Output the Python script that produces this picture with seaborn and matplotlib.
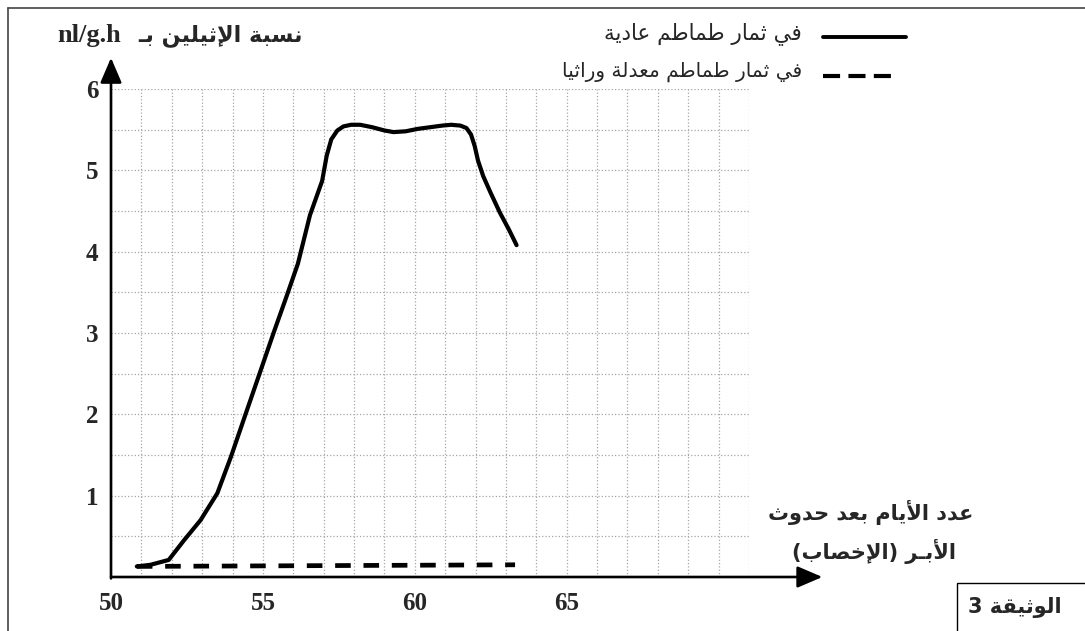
import matplotlib
matplotlib.use("Agg")
import matplotlib.pyplot as plt
from matplotlib.lines import Line2D
from matplotlib.patches import Rectangle
from matplotlib.ticker import MultipleLocator, FixedLocator
import seaborn as sns
import pandas as pd

# --- data ---
days_normal = [50.85, 51.3, 51.9, 52.4, 52.95, 53.5, 53.95, 54.4, 55.0, 55.35,
               55.75, 56.15, 56.55, 56.95, 57.1, 57.25, 57.45, 57.65, 57.9,
               58.2, 58.6, 59.0, 59.3, 59.7, 60.1, 60.5, 60.9, 61.2, 61.5,
               61.7, 61.85, 61.97, 62.08, 62.25, 62.5, 62.8, 63.1, 63.35]
ethylene_normal = [0.13, 0.15, 0.21, 0.45, 0.70, 1.03, 1.48, 1.97, 2.62, 3.0,
                   3.42, 3.85, 4.45, 4.87, 5.18, 5.38, 5.49, 5.54, 5.56,
                   5.56, 5.53, 5.49, 5.47, 5.48, 5.51, 5.53, 5.55, 5.56, 5.55,
                   5.52, 5.44, 5.3, 5.12, 4.93, 4.72, 4.48, 4.27, 4.08]
days_modified = [50.85, 63.3]
ethylene_modified = [0.13, 0.15]

x_ticks = [50, 55, 60, 65]
y_ticks = [1, 2, 3, 4, 5, 6]

title_ar = "نسبة الإثيلين بـ"
title_unit = "nl/g.h"
legend_normal = "في ثمار طماطم عادية"
legend_modified = "في ثمار طماطم معدلة وراثيا"
xlabel_1 = "عدد الأيام بعد حدوث"
xlabel_2 = "الأبـر (الإخصاب)"
doc_label = "الوثيقة 3"

# --- minimal arabic shaping (matplotlib has no bidi / shaping) ---
FORMS = {
    "\u0627": ("\uFE8D", "\uFE8E", None, None),
    "\u0623": ("\uFE83", "\uFE84", None, None),
    "\u0625": ("\uFE87", "\uFE88", None, None),
    "\u0628": ("\uFE8F", "\uFE90", "\uFE91", "\uFE92"),
    "\u0629": ("\uFE93", "\uFE94", None, None),
    "\u062A": ("\uFE95", "\uFE96", "\uFE97", "\uFE98"),
    "\u062B": ("\uFE99", "\uFE9A", "\uFE9B", "\uFE9C"),
    "\u062D": ("\uFEA1", "\uFEA2", "\uFEA3", "\uFEA4"),
    "\u062E": ("\uFEA5", "\uFEA6", "\uFEA7", "\uFEA8"),
    "\u062F": ("\uFEA9", "\uFEAA", None, None),
    "\u0631": ("\uFEAD", "\uFEAE", None, None),
    "\u0633": ("\uFEB1", "\uFEB2", "\uFEB3", "\uFEB4"),
    "\u0635": ("\uFEB9", "\uFEBA", "\uFEBB", "\uFEBC"),
    "\u0637": ("\uFEC1", "\uFEC2", "\uFEC3", "\uFEC4"),
    "\u0639": ("\uFEC9", "\uFECA", "\uFECB", "\uFECC"),
    "\u0641": ("\uFED1", "\uFED2", "\uFED3", "\uFED4"),
    "\u0642": ("\uFED5", "\uFED6", "\uFED7", "\uFED8"),
    "\u0644": ("\uFEDD", "\uFEDE", "\uFEDF", "\uFEE0"),
    "\u0645": ("\uFEE1", "\uFEE2", "\uFEE3", "\uFEE4"),
    "\u0646": ("\uFEE5", "\uFEE6", "\uFEE7", "\uFEE8"),
    "\u0648": ("\uFEED", "\uFEEE", None, None),
    "\u064A": ("\uFEF1", "\uFEF2", "\uFEF3", "\uFEF4"),
}
LAM_ALEF = {"\u0627": ("\uFEFB", "\uFEFC"), "\u0623": ("\uFEF7", "\uFEF8"),
            "\u0625": ("\uFEF9", "\uFEFA")}
TATWEEL = "\u0640"


def is_ar(c):
    return c in FORMS or c == TATWEEL


def joins_next(c):
    return c == TATWEEL or (c in FORMS and FORMS[c][2] is not None)


def ar(text):
    out = []
    i = 0
    n = len(text)
    while i < n:
        c = text[i]
        prev = text[i - 1] if i > 0 else None
        link_prev = prev is not None and joins_next(prev) and is_ar(c)
        if c == "\u0644" and i + 1 < n and text[i + 1] in LAM_ALEF:
            out.append(LAM_ALEF[text[i + 1]][1 if link_prev else 0])
            i += 2
            continue
        if c not in FORMS:
            out.append(c)
            i += 1
            continue
        link_next = joins_next(c) and i + 1 < n and is_ar(text[i + 1])
        if link_prev and link_next:
            out.append(FORMS[c][3])
        elif link_prev:
            out.append(FORMS[c][1])
        elif link_next:
            out.append(FORMS[c][2])
        else:
            out.append(FORMS[c][0])
        i += 1
    vis = "".join(out)[::-1]
    return vis.translate(str.maketrans("()", ")("))


W, H = 1085, 631


def fx(px):
    return px / W


def fy(py):
    return 1 - py / H


sns.set_style("white")
plt.rcParams["font.family"] = ["DejaVu Sans"]

fig = plt.figure(figsize=(W / 100, H / 100), dpi=100)
ax = fig.add_axes([fx(111), fy(577), (749 - 111) / W, (577 - 89) / H])

df_normal = pd.DataFrame({"day": days_normal, "eth": ethylene_normal})
df_mod = pd.DataFrame({"day": days_modified, "eth": ethylene_modified})
sns.lineplot(data=df_normal, x="day", y="eth", ax=ax, color="black",
             linewidth=3, sort=False, estimator=None, zorder=5)
sns.lineplot(data=df_mod, x="day", y="eth", ax=ax, color="black",
             linewidth=3.4, sort=False, estimator=None, zorder=5)
ax.lines[-1].set_dashes((3.3, 2.7))
ax.lines[-1].set_solid_capstyle("butt")

ax.set_xlim(50, 71)
ax.set_ylim(0, 6)
ax.xaxis.set_major_locator(FixedLocator(x_ticks))
ax.yaxis.set_major_locator(FixedLocator(y_ticks))
ax.xaxis.set_minor_locator(MultipleLocator(1))
ax.yaxis.set_minor_locator(MultipleLocator(0.5))
ax.grid(which="both", linestyle=":", color="#a6a6a6", linewidth=0.9)
ax.tick_params(which="major", direction="out", length=6, width=1.8,
               color="black", pad=3, labelsize=18,
               labelfontfamily="Liberation Serif")
ax.tick_params(which="minor", length=0)
ax.tick_params(axis="x", pad=5)
for lab in ax.get_xticklabels() + ax.get_yticklabels():
    lab.set_weight("bold")
ax.set_xlabel("")
ax.set_ylabel("")
for s in ax.spines.values():
    s.set_visible(False)

# axis arrows
arrow = dict(arrowstyle="-|>,head_length=0.7,head_width=0.3", lw=1.9,
             color="black", shrinkA=0, shrinkB=0, mutation_scale=22)
ax.annotate("", xy=(1.115, 0), xytext=(0, 0), xycoords="axes fraction",
            arrowprops=arrow, annotation_clip=False)
ax.annotate("", xy=(0, 1.064), xytext=(0, -0.003), xycoords="axes fraction",
            arrowprops=arrow, annotation_clip=False)

# titles
fig.text(fx(57), fy(42), title_unit, family="Liberation Serif",
         weight="bold", size=19, ha="left", va="baseline")
fig.text(fx(138), fy(41), ar(title_ar), weight="bold", size=16,
         ha="left", va="baseline")

# legend
fig.text(fx(802), fy(34), ar(legend_normal), size=15.5, ha="right",
         va="center")
fig.text(fx(802), fy(72), ar(legend_modified), size=14.5, ha="right",
         va="center")
fig.add_artist(Line2D([fx(823), fx(906)], [fy(37), fy(37)], color="black",
                      lw=2.8, transform=fig.transFigure))
fig.add_artist(Line2D([fx(823), fx(899)], [fy(76), fy(76)], color="black",
                      lw=3, dashes=(4.1, 2.0), transform=fig.transFigure))

# x axis label
fig.text(fx(871), fy(512), ar(xlabel_1), weight="bold", size=15,
         ha="center", va="center")
fig.text(fx(874), fy(551), ar(xlabel_2), weight="bold", size=15,
         ha="center", va="center")

# document label box
fig.add_artist(Rectangle((fx(957), fy(640)), fx(140), (640 - 583) / H,
                         fill=False, edgecolor="black", lw=1.0,
                         transform=fig.transFigure))
fig.text(fx(1015), fy(607), ar(doc_label), weight="bold", size=15,
         ha="center", va="center")

# outer frame (top and left)
fig.add_artist(Line2D([fx(8), 1], [fy(8), fy(8)], color="#444444", lw=1.2,
                      transform=fig.transFigure))
fig.add_artist(Line2D([fx(8), fx(8)], [fy(8), 0], color="#444444", lw=1.2,
                      transform=fig.transFigure))

fig.savefig("out.png", dpi=100)
